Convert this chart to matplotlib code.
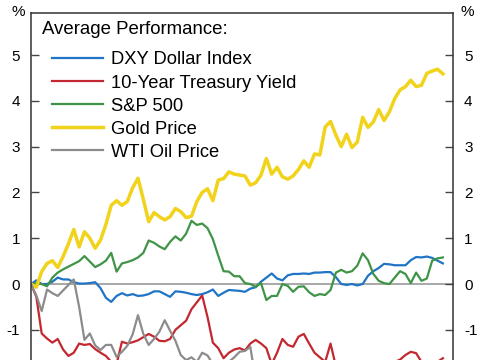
import matplotlib
matplotlib.use("Agg")
import matplotlib.pyplot as plt
import numpy as np

plt.rcParams['font.family'] = ['Liberation Sans', 'DejaVu Sans']

# Average performance (%) by day
dxy = [0, 0.08, 0.0, 0.0, 0.05, 0.14, 0.1, 0.1, 0.04, 0.01,
       0.01, 0.02, 0.04, -0.09, -0.3, -0.39, -0.26, -0.2, -0.25, -0.22,
       -0.26, -0.25, -0.22, -0.16, -0.16, -0.22, -0.28, -0.16, -0.17, -0.19,
       -0.22, -0.24, -0.22, -0.18, -0.12, -0.26, -0.19, -0.13, -0.14, -0.15,
       -0.17, -0.1, -0.07, 0.05, 0.14, 0.23, 0.12, 0.08, 0.19, 0.22,
       0.22, 0.23, 0.22, 0.25, 0.25, 0.26, 0.26, 0.15, 0.0, -0.02,
       0.0, -0.03, 0.0, 0.18, 0.28, 0.35, 0.44, 0.43, 0.41, 0.41,
       0.41, 0.52, 0.59, 0.58, 0.6, 0.57, 0.51, 0.45]
treasury = [0, -0.28, -1.08, -1.19, -1.28, -1.2, -1.43, -1.57, -1.5, -1.3,
            -1.33, -1.31, -1.42, -1.5, -1.57, -1.7, -1.75, -1.26, -1.3, -1.27,
            -1.23, -1.16, -1.09, -1.15, -1.24, -1.25, -1.2, -1.0, -0.9, -0.8,
            -0.55, -0.4, -0.25, -0.72, -1.28, -1.4, -1.62, -1.5, -1.43, -1.4,
            -1.45, -1.3, -1.22, -1.3, -1.4, -1.75, -1.5, -1.2, -1.33, -1.37,
            -1.15, -1.09, -1.3, -1.5, -1.6, -1.7, -1.3, -1.8, -1.9, -2.0,
            -1.9, -1.85, -1.95, -2.0, -1.9, -1.85, -1.8, -1.75, -1.7, -1.65,
            -1.55, -1.48, -1.51, -1.7, -1.8, -1.75, -1.7, -1.62]
sp500 = [0, 0.02, 0.0, -0.05, 0.14, 0.25, 0.32, 0.38, 0.44, 0.5,
         0.61, 0.49, 0.37, 0.43, 0.51, 0.68, 0.27, 0.45, 0.48, 0.52,
         0.58, 0.68, 0.95, 0.9, 0.82, 0.76, 0.92, 1.04, 0.95, 1.1,
         1.38, 1.29, 1.32, 1.22, 0.98, 0.62, 0.28, 0.27, 0.17, 0.17,
         0.02, 0.0, -0.06, 0.02, -0.35, -0.26, -0.26, 0.0, -0.04, -0.17,
         -0.06, -0.05, -0.18, -0.26, -0.22, -0.24, -0.13, 0.25, 0.31, 0.25,
         0.28, 0.4, 0.67, 0.52, 0.22, 0.07, 0.02, 0.0, 0.14, 0.28,
         0.22, 0.02, 0.25, 0.07, 0.12, 0.51, 0.56, 0.58]
gold = [0, -0.07, 0.27, 0.45, 0.51, 0.36, 0.6, 0.88, 1.19, 0.81,
        1.14, 1.0, 0.78, 0.96, 1.3, 1.72, 1.82, 1.72, 1.8, 2.1,
        2.31, 1.85, 1.36, 1.56, 1.47, 1.4, 1.47, 1.65, 1.58, 1.45,
        1.48, 1.8, 2.0, 2.08, 1.82, 2.27, 2.3, 2.45, 2.4, 2.38,
        2.36, 2.16, 2.21, 2.38, 2.74, 2.4, 2.55, 2.34, 2.29, 2.36,
        2.5, 2.69, 2.55, 2.84, 2.82, 3.43, 3.55, 3.25, 3.0, 3.27,
        2.98, 3.1, 3.64, 3.42, 3.54, 3.81, 3.57, 3.76, 4.05, 4.24,
        4.31, 4.45, 4.31, 4.34, 4.6, 4.65, 4.69, 4.59]
oil = [0, -0.25, -0.59, -0.12, -0.2, -0.26, -0.14, -0.02, 0.1, -0.5,
       -1.22, -1.08, -1.34, -1.44, -1.33, -1.33, -1.59, -1.48, -1.35, -1.1,
       -0.68, -1.09, -1.33, -1.2, -1.04, -0.79, -1.02, -1.24, -1.55, -1.66,
       -1.6, -1.7, -1.5, -1.56, -1.75, -1.8, -1.75, -1.7, -1.6, -1.48,
       -1.46, -1.37, -2.1, -2.2, -2.3, -2.25, -2.35, -2.4, -2.3, -2.35,
       -2.45, -2.4, -2.5, -2.45, -2.55, -2.5, -2.6, -2.55, -2.6, -2.65,
       -2.6, -2.7, -2.65, -2.7, -2.75, -2.7, -2.8, -2.75, -2.8, -2.85,
       -2.8, -2.9, -2.85, -2.9, -2.95, -2.9, -3.0, -2.95]

labels = ['DXY Dollar Index', '10-Year Treasury Yield', 'S&P 500',
          'Gold Price', 'WTI Oil Price']
colors = ['#1f74c6', '#c3272f', '#3f9447', '#f2d31c', '#8c8c8c']
yticks = [-1, 0, 1, 2, 3, 4, 5]

days = np.arange(len(gold))

fig = plt.figure(figsize=(4.85, 3.6), dpi=100)
# axes run past the bottom edge: the picture is cropped there
ax = fig.add_axes([0.0639, -0.107, 0.870, 1.0708])

ax.axhline(0, color='#9a9a9a', linewidth=1.2, zorder=1)
series = [dxy, treasury, sp500, gold, oil]
widths = [1.6, 1.6, 1.6, 2.5, 1.6]
for vals, lab, col, lw in zip(series, labels, colors, widths):
    ax.plot(days, vals, color=col, linewidth=lw, label=lab, zorder=2)

ax.set_xlim(0, 78.88)
ax.set_ylim(-2.5, 5.917)
ax.set_xticks([])
ax.set_yticks(yticks)
ax.set_yticklabels([str(t) for t in yticks])
ax.tick_params(axis='y', direction='in', length=6, width=1, color='#444444',
               left=True, right=True, labelleft=True, labelright=True,
               labelsize=11, pad=8)
for s in ax.spines.values():
    s.set_color('#333333')
    s.set_linewidth(1.1)

# unit labels above both axes
fig.text(0.037, 0.967, '%', fontsize=11, ha='center', va='center')
fig.text(0.963, 0.967, '%', fontsize=11, ha='center', va='center')

fig.text(0.0866, 0.919, 'Average Performance:', fontsize=13.4,
         ha='left', va='center')
ax.legend(loc='upper left', bbox_to_anchor=(0.107, 0.857),
          bbox_transform=fig.transFigure, frameon=False, fontsize=13.2,
          handlelength=2.78, handletextpad=0.44, labelspacing=0.33,
          borderpad=0, borderaxespad=0)

fig.savefig('out.png', dpi=100)
